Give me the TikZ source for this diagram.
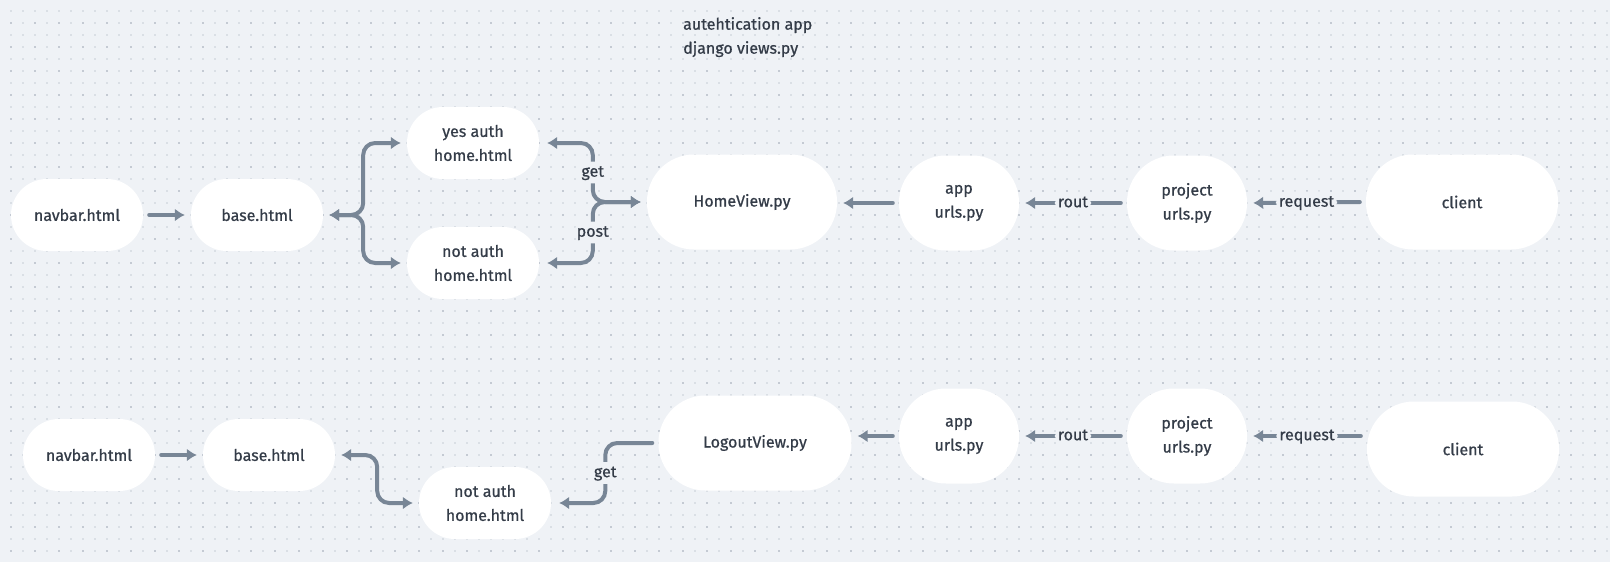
\documentclass[tikz,border=0pt]{standalone}
\usepackage{fontspec}
\setmainfont{Fira Sans}[RawFeature={embolden=0.7}]
\usetikzlibrary{arrows.meta,positioning}
\definecolor{AuthBg}{RGB}{239,242,246}
\definecolor{AuthDotLight}{RGB}{218,223,229}
\definecolor{AuthDotDark}{RGB}{196,202,211}
\definecolor{AuthSlate}{RGB}{120,134,150}
\definecolor{AuthInk}{RGB}{52,60,72}
\tikzset{
  auth/box/.style={
    fill=white,
    rounded corners=36pt,
    minimum width=132pt,
    minimum height=72pt,
    inner sep=0pt,
    align=center,
    text=AuthInk,
    font=\fontsize{16}{24}\selectfont
  },
  auth/bigbox/.style={
    auth/box,
    rounded corners=47pt,
    minimum height=95pt
  },
  auth/arrow/.style={-{Latex[length=10pt,width=13pt]}, line width=4pt, draw=AuthSlate, line cap=round, rounded corners=12pt, shorten >=6pt, shorten <=6pt},
  auth/twoway/.style={auth/arrow, {Latex[length=10pt,width=13pt]}-{Latex[length=10pt,width=13pt]}},
  auth/label/.style={fill=AuthBg, text=AuthInk, inner sep=3pt, text height=12pt, text depth=3.6pt, font=\fontsize{16}{20}\selectfont},
  auth/title/.style={text=AuthInk, align=left, anchor=north west, inner sep=0pt, font=\fontsize{16}{24}\selectfont}
}
\begin{document}
\begin{tikzpicture}[x=1pt,y=-1pt]
  \fill[AuthBg] (0,0) rectangle (1610,562);
  \useasboundingbox (0,0) rectangle (1610,562);
  \foreach \row in {0,...,45}
    \draw[AuthDotLight, line width=2pt, dash pattern=on 2pt off 10pt] (10,{11+12*\row}) -- (1610,{11+12*\row});
  \foreach \row in {0,...,22}
    \draw[AuthDotDark, line width=2pt, dash pattern=on 2pt off 22pt] (10,{23+24*\row}) -- (1610,{23+24*\row});

  \node[auth/title] (title) at (683,17) {autehtication app\\django views.py};

  \node[auth/box] (navbarA) at (77,215) {navbar.html};
  \node[auth/box] (baseA) at (257,215) {base.html};
  \node[auth/box] (yesA) at (473,143) {yes auth\\home.html};
  \node[auth/box] (notA) at (473,263) {not auth\\home.html};
  \node[auth/bigbox,minimum width=190pt] (homeview) at (742,202) {HomeView.py};
  \node[auth/bigbox,minimum width=120pt] (appA) at (959,203) {app\\urls.py};
  \node[auth/bigbox,minimum width=120pt] (projectA) at (1187,203) {project\\urls.py};
  \node[auth/bigbox,minimum width=192pt] (clientA) at (1462,202) {client};

  \draw[auth/arrow] (navbarA) -- (baseA);
  \draw[auth/twoway] (baseA.east) -- ++(40,0) |- (yesA.west);
  \draw[auth/twoway] (baseA.east) -- ++(40,0) |- (notA.west);
  \draw[auth/twoway,shorten >=8pt] (homeview.west) -- ++(-54,0) |- node[auth/label,pos=0.25] {get} (yesA.east);
  \draw[auth/twoway,shorten >=8pt] (homeview.west) -- ++(-54,0) |- node[auth/label,pos=0.25] {post} (notA.east);
  \draw[auth/arrow] (appA.west) -- (appA.west -| homeview.east);
  \draw[auth/arrow] (projectA.west) -- node[auth/label] {rout} (appA.east);
  \draw[auth/arrow] (clientA.west) -- node[auth/label] {request} (projectA.east);

  \node[auth/box] (navbarB) at (89,455) {navbar.html};
  \node[auth/box] (baseB) at (269,455) {base.html};
  \node[auth/box] (notB) at (485,503) {not auth\\home.html};
  \node[auth/bigbox,minimum width=193pt] (logoutview) at (755,443) {LogoutView.py};
  \node[auth/bigbox,minimum width=120pt] (appB) at (959,436) {app\\urls.py};
  \node[auth/bigbox,minimum width=120pt] (projectB) at (1187,436) {project\\urls.py};
  \node[auth/bigbox,minimum width=192pt] (clientB) at (1463,449) {client};

  \draw[auth/arrow] (navbarB) -- (baseB);
  \draw[auth/twoway] (baseB.east) -- ++(42,0) |- (notB.west);
  \draw[auth/arrow,shorten >=8pt] (logoutview.west) -- ++(-53,0) |- node[auth/label,pos=0.25] {get} (notB.east);
  \draw[auth/arrow] (appB.west) -- (appB.west -| logoutview.east);
  \draw[auth/arrow] (projectB.west) -- node[auth/label] {rout} (appB.east);
  \draw[auth/arrow] (clientB.west |- projectB.east) -- node[auth/label] {request} (projectB.east);
\end{tikzpicture}
\end{document}
